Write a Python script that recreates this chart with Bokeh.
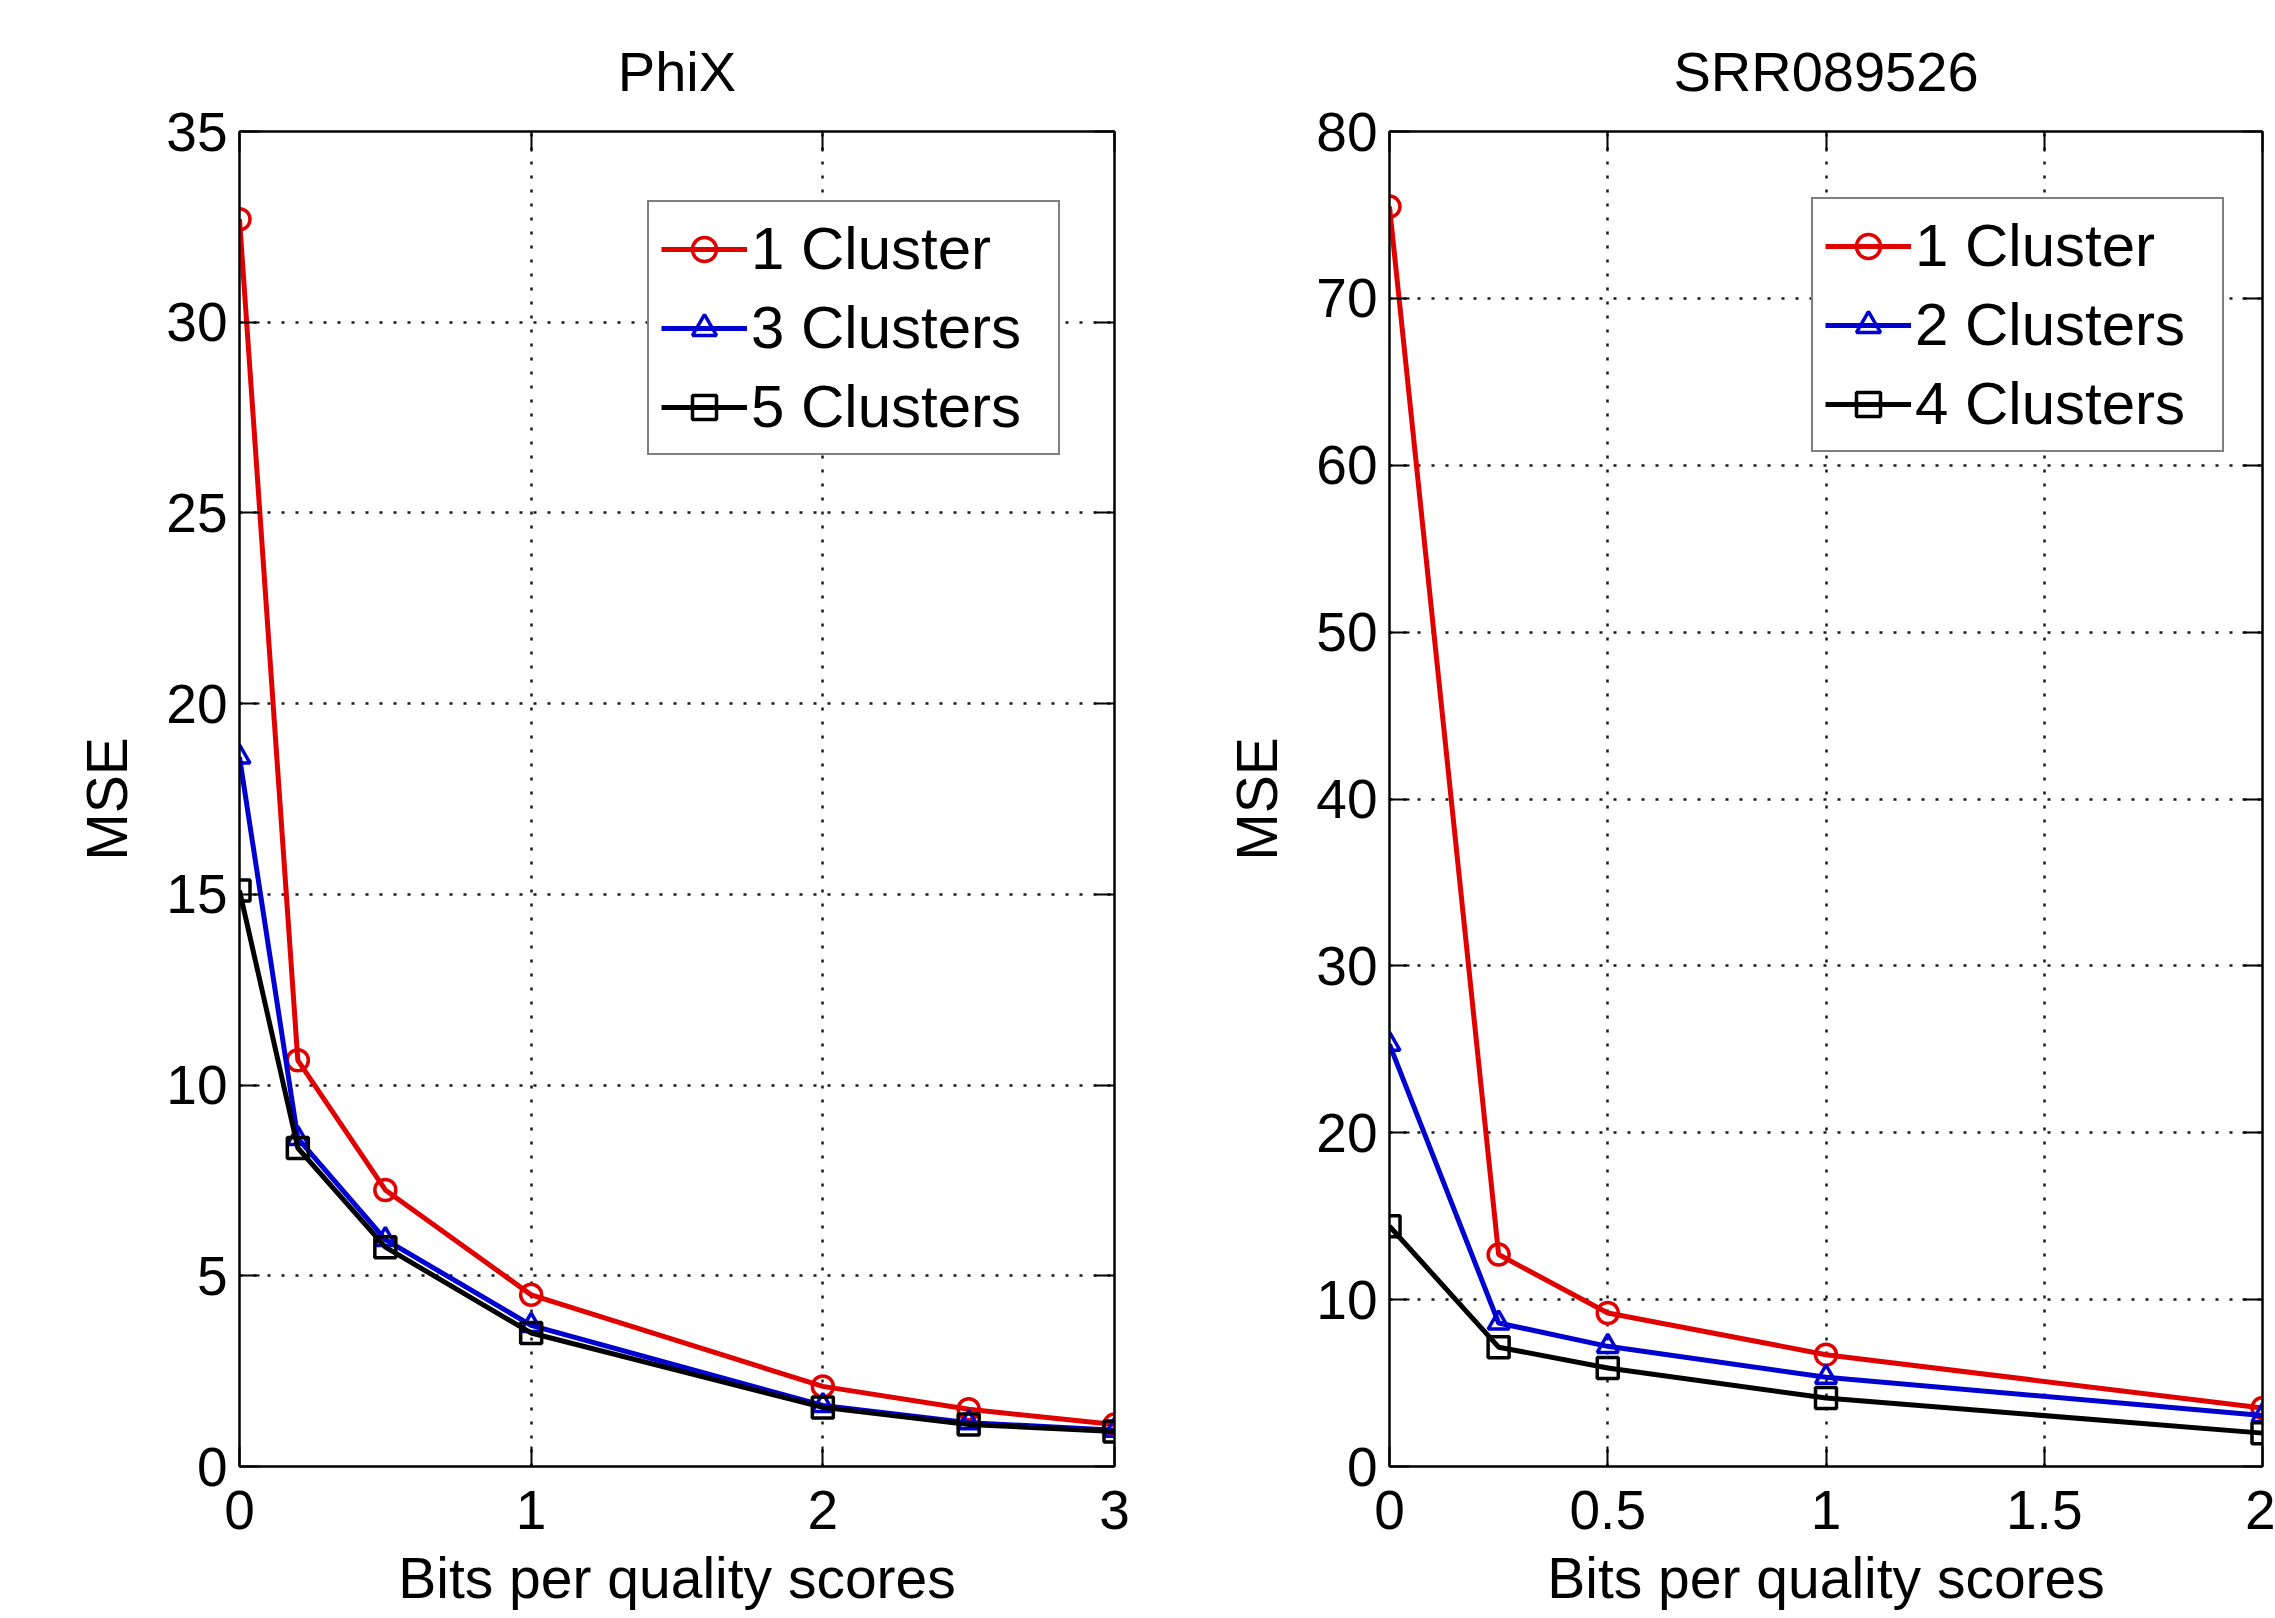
from bokeh.plotting import figure
from bokeh.layouts import row
from bokeh.models import (LinearAxis, FixedTicker, CustomJSTickFormatter, Range1d,
                          CustomLabelingPolicy)
from bokeh.embed import file_html
from bokeh.resources import INLINE

# ---------------- data ----------------
phix_title = "PhiX"
phix_bits = [0, 0.2, 0.5, 1, 2, 2.5, 3]
phix_1_cluster = [32.7, 10.65, 7.25, 4.5, 2.1, 1.5, 1.1]
phix_3_clusters = [18.6, 8.6, 5.95, 3.7, 1.6, 1.15, 0.95]
phix_5_clusters = [15.1, 8.35, 5.75, 3.5, 1.55, 1.1, 0.92]
phix_labels = ["1 Cluster", "3 Clusters", "5 Clusters"]
phix_xticks = [0, 1, 2, 3]
phix_yticks = [0, 5, 10, 15, 20, 25, 30, 35]

srr_title = "SRR089526"
srr_bits = [0, 0.25, 0.5, 1, 2]
srr_1_cluster = [75.5, 12.7, 9.2, 6.7, 3.5]
srr_2_clusters = [25.3, 8.6, 7.2, 5.35, 3.05]
srr_4_clusters = [14.4, 7.15, 5.9, 4.1, 2.0]
srr_labels = ["1 Cluster", "2 Clusters", "4 Clusters"]
srr_xticks = [0, 0.5, 1, 1.5, 2]
srr_yticks = [0, 10, 20, 30, 40, 50, 60, 70, 80]

x_label = "Bits per quality scores"
y_label = "MSE"

colors = ["#e00000", "#0000d0", "#000000"]
markers = ["circle", "triangle", "square"]

FONT = "Liberation Sans"
TICK_FMT = "return tick.toString();"
HIDE_ALL = "for (const i of indices) indices.unset(i)"


def build(title, xs, series, labels, xticks, yticks, width, bl, br, legend_xy):
    p = figure(width=width, height=1618,
               x_range=Range1d(xticks[0], xticks[-1]),
               y_range=Range1d(yticks[0], yticks[-1]),
               output_backend="svg", toolbar_location=None,
               min_border_left=bl, min_border_right=br,
               min_border_top=131, min_border_bottom=152,
               title=title)
    p.background_fill_color = "white"
    p.border_fill_color = "white"
    p.outline_line_color = "black"
    p.outline_line_width = 2
    p.outline_line_alpha = 1

    p.title.text_font = FONT
    p.title.text_font_size = "56px"
    p.title.text_font_style = "normal"
    p.title.text_color = "black"
    p.title.align = "center"
    p.title.standoff = 50

    for ax, ticks in ((p.xaxis[0], xticks), (p.yaxis[0], yticks)):
        ax.ticker = FixedTicker(ticks=ticks)
        ax.formatter = CustomJSTickFormatter(code=TICK_FMT)
        ax.major_label_text_font = FONT
        ax.major_label_text_font_size = "55px"
        ax.major_label_text_color = "black"
        ax.axis_label_text_font = FONT
        ax.axis_label_text_font_size = "57px"
        ax.axis_label_text_font_style = "normal"
        ax.axis_label_text_color = "black"
        ax.major_tick_in = 20
        ax.major_tick_out = 0
        ax.major_tick_line_width = 2
        ax.minor_tick_line_color = None
        ax.axis_line_width = 2
        ax.axis_line_color = "black"
    p.xaxis[0].axis_label = x_label
    p.yaxis[0].axis_label = y_label
    p.xaxis[0].major_label_standoff = 24
    p.xaxis[0].axis_label_standoff = 14
    p.yaxis[0].major_label_standoff = 12
    p.yaxis[0].axis_label_standoff = 24

    # mirrored ticks on top and right (MATLAB box), no labels
    for loc, ticks in (("right", yticks), ("above", xticks)):
        ax = LinearAxis(ticker=FixedTicker(ticks=ticks))
        ax.major_label_policy = CustomLabelingPolicy(code=HIDE_ALL)
        ax.major_label_text_font_size = "1px"
        ax.major_label_standoff = 0
        ax.major_tick_in = 20
        ax.major_tick_out = 0
        ax.major_tick_line_width = 2
        ax.minor_tick_line_color = None
        ax.axis_line_width = 2
        p.add_layout(ax, loc)

    for g in (p.xgrid[0], p.ygrid[0]):
        g.grid_line_color = "black"
        g.grid_line_alpha = 0.9
        g.grid_line_width = 2.5
        g.grid_line_dash = "3 11"
    p.xgrid[0].ticker = FixedTicker(ticks=xticks)
    p.ygrid[0].ticker = FixedTicker(ticks=yticks)

    for ys, lab, c, m in zip(series, labels, colors, markers):
        p.line(xs, ys, line_color=c, line_width=5, legend_label=lab)
        p.scatter(xs, ys, marker=m, size=21, line_color=c, line_width=3.5,
                  fill_color=None, legend_label=lab)

    lg = p.legend[0]
    lg.location = legend_xy
    lg.label_text_font = FONT
    lg.label_text_font_size = "60px"
    lg.label_text_color = "black"
    lg.border_line_color = "black"
    lg.border_line_width = 2
    lg.background_fill_color = "white"
    lg.background_fill_alpha = 1
    lg.glyph_width = 86
    lg.glyph_height = 60
    lg.label_height = 66
    lg.label_standoff = 4
    lg.label_width = 295
    lg.padding = 12
    lg.spacing = 10
    lg.margin = 0
    return p


p1 = build(phix_title, phix_bits,
           [phix_1_cluster, phix_3_clusters, phix_5_clusters], phix_labels,
           phix_xticks, phix_yticks, 1180, 239, 66, (408, 1011))
p2 = build(srr_title, srr_bits,
           [srr_1_cluster, srr_2_clusters, srr_4_clusters], srr_labels,
           srr_xticks, srr_yticks, 1095, 209, 13, (422, 1014))

layout = row(p1, p2, spacing=0)
open("out.html", "w").write(file_html(layout, INLINE))
